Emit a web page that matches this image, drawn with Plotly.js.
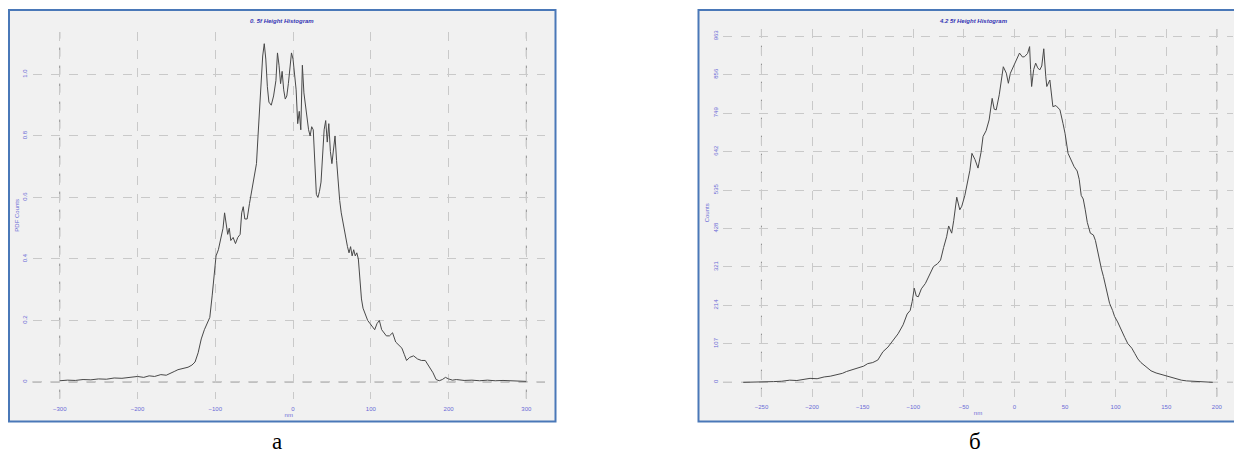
<!DOCTYPE html>
<html>
<head>
<meta charset="utf-8">
<script src="https://cdn.plot.ly/plotly-3.0.1.min.js"></script>
<style>html,body{margin:0;padding:0;background:#fff;}#chart{width:1234px;height:457px;}</style>
</head>
<body>
<div id="chart"></div>
<script>
// ---------- Data: panel (а) ----------
const titleA = "0. 5f Height Histogram";
const xTitleA = "nm";
const yTitleA = "PDF Counts";
const xTicksA = [-300, -200, -100, 0, 100, 200, 300];
const yTicksA = [0, 0.2, 0.4, 0.6, 0.8, 1.0];
const yTickTextA = ["0", "0.2", "0.4", "0.6", "0.8", "1.0"];
const heightA = [-300,-290,-280,-270,-260,-250,-240,-230,-220,-210,-200,-192,-185,-178,-170,-163,-157,-152,-148,-144,-140,-135,-130,-126,-122,-118,-114,-110,-107,-104,-101,-99,-96,-93,-90,-88,-86,-84,-82,-80,-77,-74,-71,-68,-66,-64,-62,-59,-56,-53,-50,-47,-45,-43,-41,-39,-37,-35,-33,-31,-28,-25,-22,-20,-18,-16,-14,-12,-10,-8,-6,-4,-2,0,2,4,6,8,10,12,14,16,18,20,22,24,26,28,30,32,34,36,38,40,42,44,46,48,50,52,54,56,58,60,62,64,66,68,70,72,74,76,78,80,82,84,86,88,90,93,96,99,102,105,108,111,114,117,120,124,128,132,136,140,143,146,150,155,160,165,170,175,180,184,188,192,196,200,205,210,220,230,240,250,260,270,280,290,300];
const pdfA = [0.004,0.006,0.005,0.008,0.007,0.010,0.009,0.013,0.012,0.016,0.018,0.015,0.020,0.018,0.024,0.022,0.028,0.035,0.040,0.042,0.045,0.048,0.055,0.065,0.095,0.14,0.17,0.19,0.21,0.28,0.36,0.41,0.43,0.47,0.50,0.55,0.52,0.48,0.50,0.46,0.47,0.45,0.47,0.48,0.55,0.57,0.53,0.53,0.58,0.62,0.67,0.71,0.80,0.90,0.99,1.06,1.10,1.05,0.96,0.91,0.90,0.93,0.98,1.07,1.03,0.97,1.01,0.95,0.92,0.93,0.97,1.02,1.07,1.05,1.00,0.95,0.84,0.88,0.82,1.03,0.94,0.90,0.86,0.82,0.80,0.83,0.82,0.70,0.61,0.60,0.62,0.65,0.72,0.82,0.85,0.78,0.84,0.75,0.71,0.75,0.80,0.72,0.64,0.59,0.55,0.52,0.49,0.46,0.44,0.42,0.44,0.41,0.43,0.41,0.42,0.40,0.33,0.27,0.24,0.22,0.20,0.19,0.18,0.17,0.19,0.20,0.17,0.16,0.15,0.15,0.16,0.13,0.12,0.11,0.09,0.07,0.08,0.085,0.075,0.07,0.07,0.05,0.03,0.008,0.004,0.008,0.015,0.010,0.006,0.008,0.005,0.006,0.004,0.006,0.004,0.005,0.004,0.003,0.002];

// ---------- Data: panel (б) ----------
const titleB = "4.2 5f Height Histogram";
const xTitleB = "nm";
const yTitleB = "Counts";
const xTicksB = [-250, -200, -150, -100, -50, 0, 50, 100, 150, 200];
const yTicksB = [0, 107, 214, 321, 428, 535, 642, 749, 856, 963];
const heightB = [-268,-260,-250,-242,-238,-230,-222,-215,-208,-202,-195,-188,-182,-175,-170,-166,-160,-155,-149,-145,-140,-135,-130,-125,-120,-115,-110,-106,-103,-101,-99,-97,-95,-92,-88,-84,-80,-76,-73,-70,-67,-65,-62,-60,-57,-54,-52,-49,-47,-44,-42,-39,-36,-33,-31,-28,-25,-22,-20,-18,-15,-13,-11,-8,-6,-4,-1,2,5,8,10,13,15,16,17,19,21,23,25,27,29,31,32,35,38,41,45,48,50,53,56,59,62,64,66,68,70,72,75,78,80,83,86,88,91,94,97,99,102,106,109,112,116,119,122,125,128,131,135,140,145,150,155,160,165,170,175,180,185,190,196];
const countsB = [0,0,0,0,2,3,6,5,9,11,10,15,17,22,25,30,36,40,45,52,55,62,85,98,118,135,160,190,200,225,262,240,238,260,275,298,322,330,340,375,405,435,415,450,515,480,490,520,545,590,637,620,596,640,684,700,730,790,760,758,800,835,878,860,832,860,878,895,916,905,906,915,934,870,823,870,888,875,869,880,928,850,823,841,767,770,758,720,693,637,620,600,588,565,520,510,480,445,415,410,395,350,315,294,255,220,200,183,168,146,125,108,95,80,65,55,48,40,32,26,22,18,13,9,6,4,3,2,2,1,0];

// ---------- Layout constants ----------
const W = 1234, H = 457;
const fx = p => p / W;
const fy = p => 1 - p / H;
const tickColor = "#6a6ad6";
const titleColor = "#3434b4";
const gridColor = "#c9c9c9";
const axisDark = "#8c8c8c";
const fontFam = "Liberation Sans, Arial, sans-serif";

function xAxis(domain, range, ticks, title, anchor) {
  return {
    domain, range, anchor,
    tickmode: "array", tickvals: ticks,
    showgrid: true, gridcolor: gridColor, griddash: "dash", gridwidth: 1,
    zeroline: false, showline: false, ticks: "",
    tickfont: {size: 6, color: tickColor, family: fontFam},
    ticklabelstandoff: 5,
    title: {text: title, font: {size: 6, color: tickColor, family: fontFam}, standoff: 2},
    fixedrange: true
  };
}
function yAxis(domain, range, ticks, text, title, anchor) {
  return {
    domain, range, anchor,
    tickmode: "array", tickvals: ticks, ticktext: text,
    tickangle: -90,
    showgrid: true, gridcolor: gridColor, griddash: "dash", gridwidth: 1,
    zeroline: false, showline: false, ticks: "",
    tickfont: {size: 6, color: tickColor, family: fontFam},
    ticklabelstandoff: 3,
    title: {text: title, font: {size: 6, color: tickColor, family: fontFam}, standoff: 2},
    fixedrange: true
  };
}

const traces = [
  {x: heightA, y: pdfA, xaxis: "x", yaxis: "y", type: "scatter", mode: "lines",
   line: {color: "#484848", width: 1}, hoverinfo: "skip"},
  {x: heightB, y: countsB, xaxis: "x2", yaxis: "y2", type: "scatter", mode: "lines",
   line: {color: "#484848", width: 1}, hoverinfo: "skip"}
];

function edgeLines(xref, yref, xt, yt) {
  const ds = {color: axisDark, width: 1, dash: "dash"};
  const first = xt[0], last = xt[xt.length - 1];
  return [
    {type: "line", xref: xref, yref: yref + " domain", x0: first, x1: first, y0: 0, y1: 1, line: ds, layer: "below"},
    {type: "line", xref: xref, yref: yref + " domain", x0: last, x1: last, y0: 0, y1: 1, line: ds, layer: "below"},
    {type: "line", xref: xref + " domain", yref: yref, x0: 0, x1: 1, y0: yt[0], y1: yt[0], line: ds, layer: "below"}
  ];
}

const layout = {
  width: W, height: H,
  margin: {l: 0, r: 0, t: 0, b: 0},
  paper_bgcolor: "#ffffff",
  plot_bgcolor: "rgba(0,0,0,0)",
  showlegend: false,
  font: {family: fontFam},
  xaxis: xAxis([fx(32.5), fx(545)], [-335, 324], xTicksA, xTitleA, "y"),
  yaxis: yAxis([fy(398.6), fy(32)], [-0.054, 1.138], yTicksA, yTickTextA, yTitleA, "x"),
  xaxis2: xAxis([fx(723), fx(1233)], [-288, 216], xTicksB, xTitleB, "y2"),
  yaxis2: yAxis([fy(396.7), fy(29)], [-40, 983], yTicksB, yTicksB.map(String), yTitleB, "x2"),
  shapes: [
    {type: "rect", xref: "paper", yref: "paper", x0: fx(9), x1: fx(555.5), y0: fy(421.5), y1: fy(10),
     fillcolor: "#f1f1f1", line: {color: "#4a78b8", width: 2}, layer: "below"},
    {type: "rect", xref: "paper", yref: "paper", x0: fx(698.5), x1: fx(1240), y0: fy(421.5), y1: fy(10),
     fillcolor: "#f1f1f1", line: {color: "#4a78b8", width: 2}, layer: "below"}
  ].concat(edgeLines("x", "y", xTicksA, yTicksA), edgeLines("x2", "y2", xTicksB, yTicksB)),
  annotations: [
    {text: "<b><i>" + titleA + "</i></b>", xref: "paper", yref: "paper", x: fx(282), y: fy(21),
     showarrow: false, font: {size: 6, color: titleColor, family: fontFam}, xanchor: "center", yanchor: "middle"},
    {text: "<b><i>" + titleB + "</i></b>", xref: "paper", yref: "paper", x: fx(974), y: fy(21),
     showarrow: false, font: {size: 6, color: titleColor, family: fontFam}, xanchor: "center", yanchor: "middle"},
    {text: "а", xref: "paper", yref: "paper", x: fx(277), y: fy(441),
     showarrow: false, font: {size: 23, color: "#000", family: "Liberation Serif, Times New Roman, serif"}, xanchor: "center", yanchor: "middle"},
    {text: "б", xref: "paper", yref: "paper", x: fx(975), y: fy(441),
     showarrow: false, font: {size: 23, color: "#000", family: "Liberation Serif, Times New Roman, serif"}, xanchor: "center", yanchor: "middle"}
  ]
};

Plotly.newPlot("chart", traces, layout, {staticPlot: true, displayModeBar: false});
</script>
</body>
</html>
